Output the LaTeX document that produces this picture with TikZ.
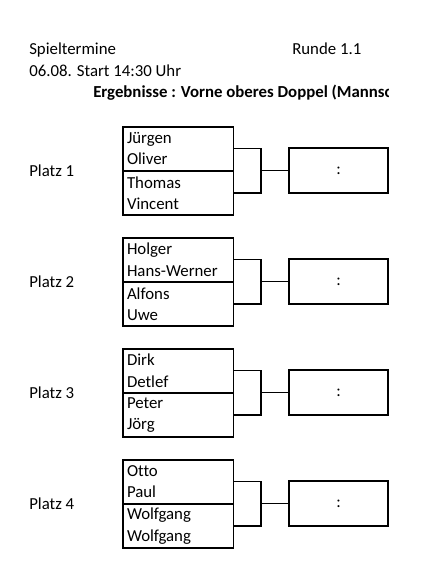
\documentclass[tikz,border=0pt]{standalone}
\usepackage{fontspec}
\setmainfont[Ligatures=NoCommon]{Carlito}
\usetikzlibrary{positioning}

\begin{document}
\begin{tikzpicture}[
  x=0.75pt, y=-0.75pt,
  font=\fontsize{12.6}{16.1}\selectfont,
  txt/.style={anchor=base west, inner sep=0pt},
  pair/.style={draw, line width=0.6pt, minimum width=82.5pt,
               minimum height=32.6pt, text width=76.5pt,
               inner xsep=3pt, inner ysep=0pt, align=left},
  res/.style={draw, line width=1.1pt, minimum width=74.25pt,
              minimum height=33.75pt},
  team/.style={line width=1.3pt},
  conn/.style={line width=0.9pt}
]
  \useasboundingbox (0,0) rectangle (435,563);

  % header
  \node[txt] (st)  at (29,55)  {Spieltermine};
  \node[txt] (rd)  at (292,55) {Runde 1.1};
  \node[txt] (dat) at (29,77)  {06.08. Start 14:30 Uhr};
  \begin{scope}
    \clip (0,80) rectangle (388,105);
    \node[txt, font=\fontsize{12.6}{16.1}\selectfont\bfseries] (hd) at (93,98)
      {Ergebnisse : Vorne oberes Doppel (Mannschaft)};
  \end{scope}

  % Platz 1
  \node[txt] (pl1) at (29,176) {Platz 1};
  \node[pair] (a1) at (178,148.75) {Jürgen\\Oliver};
  \node[pair, below=0pt of a1] (b1) {Thomas\\Vincent};
  \draw[team] (a1.north west) rectangle (b1.south east);
  \node[res] (r1) at (338.5,170.5) {:};
  \coordinate (j1) at (261,170.5);
  \draw[conn] (a1.east) -| (j1) |- (b1.east);
  \draw[conn] (j1) -- (r1);

  % Platz 2
  \node[txt] (pl2) at (29,287) {Platz 2};
  \node[pair] (a2) at (178,259.75) {Holger\\Hans-Werner};
  \node[pair, below=0pt of a2] (b2) {Alfons\\Uwe};
  \draw[team] (a2.north west) rectangle (b2.south east);
  \node[res] (r2) at (338.5,281.5) {:};
  \coordinate (j2) at (261,281.5);
  \draw[conn] (a2.east) -| (j2) |- (b2.east);
  \draw[conn] (j2) -- (r2);

  % Platz 3
  \node[txt] (pl3) at (29,398) {Platz 3};
  \node[pair] (a3) at (178,370.75) {Dirk\\Detlef};
  \node[pair, below=0pt of a3] (b3) {Peter\\Jörg};
  \draw[team] (a3.north west) rectangle (b3.south east);
  \node[res] (r3) at (338.5,392.5) {:};
  \coordinate (j3) at (261,392.5);
  \draw[conn] (a3.east) -| (j3) |- (b3.east);
  \draw[conn] (j3) -- (r3);

  % Platz 4
  \node[txt] (pl4) at (29,509) {Platz 4};
  \node[pair] (a4) at (178,481.75) {Otto\\Paul};
  \node[pair, below=0pt of a4] (b4) {Wolfgang\\Wolfgang};
  \draw[team] (a4.north west) rectangle (b4.south east);
  \node[res] (r4) at (338.5,503.5) {:};
  \coordinate (j4) at (261,503.5);
  \draw[conn] (a4.east) -| (j4) |- (b4.east);
  \draw[conn] (j4) -- (r4);
\end{tikzpicture}
\end{document}
